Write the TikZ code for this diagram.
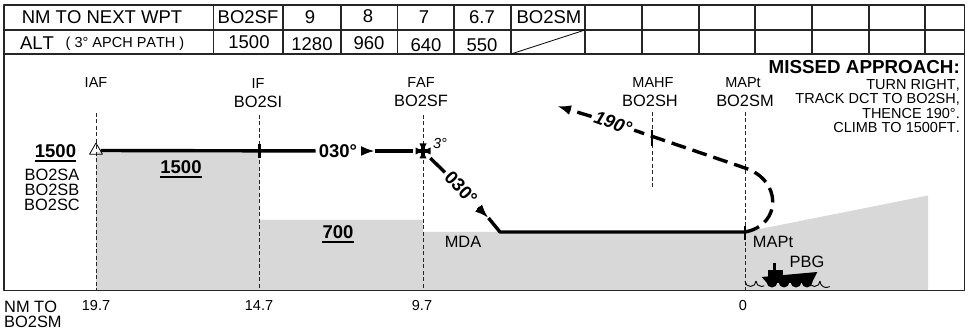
\documentclass[tikz,border=0pt]{standalone}
\usepackage{fontspec}
\setmainfont{Liberation Sans}[Kerning=Off]
\usetikzlibrary{arrows.meta,shapes.geometric}
\definecolor{terrain}{HTML}{D8D8D8}
\tikzset{
  txt/.style={inner sep=0bp,font=\fontsize{14.5bp}{14.5bp}\selectfont},
  cell/.style={inner sep=0bp,font=\fontsize{18.5bp}{20bp}\selectfont},
  fix/.style={inner sep=0bp,font=\fontsize{16.4bp}{15bp}\selectfont},
  alt/.style={inner sep=0bp,font=\fontsize{18.5bp}{17bp}\selectfont\bfseries},
  course/.style={inner sep=3bp,font=\fontsize{18.5bp}{18bp}\selectfont\bfseries},
  ruled/.style={line width=1.2bp,draw=black!85},
  guide/.style={line width=1bp,dash pattern=on 4bp off 2.5bp,draw=black!85},
  track/.style={line width=3.4bp,line cap=butt},
  miss/.style={line width=3.4bp,dash pattern=on 15bp off 7bp},
  under/.style={line width=2bp},
  wave/.style={line width=0.9bp},
}
\begin{document}
\begin{tikzpicture}[>={Latex[length=14bp,width=10bp]},line join=bevel]
\useasboundingbox (0bp,0bp) rectangle (969bp,331bp);
%% terrain
\fill [terrain] (96bp,179bp) -- (259.5bp,179bp) -- (259.5bp,111bp) -- (423bp,111bp) -- (423bp,99bp) -- (745bp,99bp) -- (928bp,135.5bp) -- (928bp,41bp) -- (96bp,41bp) -- cycle;
%% table and frame
\draw [ruled] (4bp,326bp) -- (964.5bp,326bp) -- (964.5bp,40.5bp) -- (4bp,40.5bp) -- cycle;
\draw [ruled] (4bp,301bp) -- (964.5bp,301bp);
\draw [ruled] (4bp,277bp) -- (964.5bp,277bp);
\draw [ruled] (213.5bp,326bp) -- (213.5bp,277bp);
\draw [ruled] (283bp,326bp) -- (283bp,277bp);
\draw [ruled] (341bp,326bp) -- (341bp,277bp);
\draw [ruled] (397.5bp,326bp) -- (397.5bp,277bp);
\draw [ruled] (454bp,326bp) -- (454bp,277bp);
\draw [ruled] (511bp,326bp) -- (511bp,277bp);
\draw [ruled] (585bp,326bp) -- (585bp,277bp);
\draw [ruled] (642bp,326bp) -- (642bp,277bp);
\draw [ruled] (699bp,326bp) -- (699bp,277bp);
\draw [ruled] (755bp,326bp) -- (755bp,277bp);
\draw [ruled] (812bp,326bp) -- (812bp,277bp);
\draw [ruled] (869bp,326bp) -- (869bp,277bp);
\draw [ruled] (925bp,326bp) -- (925bp,277bp);
\draw [line width=0.8bp] (511bp,277bp) -- (585bp,301bp);
%
\node (node_nm) at (102bp,314bp) [cell] {NM TO NEXT WPT};
\node (node_alt) at (37bp,288bp) [cell] {ALT};
\node (node_path) at (125bp,287bp) [txt] {( 3° APCH PATH )};
\node (node_wpta) at (248bp,314bp) [cell] {BO2SF};
\node (node_wptb) at (310bp,314bp) [cell] {9};
\node (node_wptc) at (368bp,315bp) [cell] {8};
\node (node_wptd) at (424bp,314bp) [cell] {7};
\node (node_wpte) at (482bp,314bp) [cell] {6.7};
\node (node_wptf) at (549bp,314bp) [cell] {BO2SM};
\node (node_alta) at (249bp,289bp) [cell] {1500};
\node (node_altb) at (312bp,287bp) [cell] {1280};
\node (node_altc) at (369bp,288bp) [cell] {960};
\node (node_altd) at (426bp,286bp) [cell] {640};
\node (node_alte) at (482bp,286bp) [cell] {550};
%% fix names
\node (node_iaftext) at (96bp,248bp) [txt] {IAF};
\node (node_iftext) at (258bp,247.5bp) [txt] {IF};
\node (node_ifname) at (258bp,229.5bp) [fix] {BO2SI};
\node (node_faftext) at (421bp,248.5bp) [txt] {FAF};
\node (node_fafname) at (421bp,230.5bp) [fix] {BO2SF};
\node (node_mahftext) at (653bp,248.5bp) [txt] {MAHF};
\node (node_mahfname) at (650bp,230.5bp) [fix] {BO2SH};
\node (node_mapttext) at (743bp,248.5bp) [txt] {MAPt};
\node (node_maptname) at (745bp,230.5bp) [fix] {BO2SM};
\node (node_missed) at (960bp,263.5bp) [anchor=east,inner sep=0bp,font=\fontsize{18.8bp}{18bp}\selectfont\bfseries] {MISSED APPROACH:};
\node (node_turn) at (960bp,225bp) [txt,anchor=east,align=right] {TURN RIGHT,\\TRACK DCT TO BO2SH,\\THENCE 190°.\\CLIMB TO 1500FT.};
%% guides
\coordinate (node_iafb) at (96bp,41bp);
\coordinate (node_ifb) at (259.5bp,41bp);
\coordinate (node_fafb) at (423bp,41bp);
\coordinate (node_maptb) at (745bp,41bp);
\coordinate (node_iaft) at (96bp,218bp);
\coordinate (node_ift) at (259.5bp,216bp);
\coordinate (node_faft) at (423bp,216bp);
\coordinate (node_mahft) at (652bp,219bp);
\coordinate (node_mahfb) at (652bp,143bp);
\coordinate (node_maptt) at (745bp,219bp);
\draw [guide] (node_iaft) -- (node_iafb);
\draw [guide] (node_ift) -- (node_ifb);
\draw [guide] (node_faft) -- (node_fafb);
\draw [guide] (node_mahft) -- (node_mahfb);
\draw [guide] (node_maptt) -- (node_maptb);
%% approach track
\node (node_iaf) at (96bp,180.5bp) [draw,line width=0.8bp,regular polygon,regular polygon sides=3,minimum size=15bp,inner sep=0bp] {};
\node (node_trka) at (338bp,180bp) [course] {030°};
\node (node_faf) at (423bp,180bp) [circle,minimum size=20bp,inner sep=0bp] {};
\node (node_trkb) at (461bp,143bp) [course,rotate=-47] {030°};
\coordinate (node_heada) at (361bp,180bp);
\coordinate (node_tipa) at (375bp,180bp);
\coordinate (node_headb) at (478bp,123.5bp);
\coordinate (node_tipb) at (488.5bp,113bp);
\coordinate (node_mda) at (500bp,99bp);
\coordinate (node_mapt) at (745bp,99bp);
\draw [track] (node_iaf) -- (node_trka);
\draw [track,->] (node_heada) -- (node_tipa);
\draw [track] (node_tipa) -- (node_faf);
\draw [track] (node_faf) -- (node_trkb);
\draw [track,->] (node_headb) -- (node_tipb);
\draw [track] (node_tipb) -- (node_mda) -- (node_mapt);
\fill (node_faf.center) -- ++(-7.5bp,3.5bp) -- ++(0bp,-7bp) -- cycle;
\fill (node_faf.center) -- ++(7.5bp,3.5bp) -- ++(0bp,-7bp) -- cycle;
\fill (node_faf.center) -- ++(3.5bp,7.5bp) -- ++(-7bp,0bp) -- cycle;
\fill (node_faf.center) -- ++(3.5bp,-7.5bp) -- ++(-7bp,0bp) -- cycle;
\draw [line width=3.5bp] ([xshift=-6.5bp]node_faf.center) -- ([xshift=6.5bp]node_faf.center);
\draw [line width=3.5bp] ([yshift=-6.5bp]node_faf.center) -- ([yshift=6.5bp]node_faf.center);
\node (node_slope) at (440bp,187bp) [txt,font=\fontsize{14.5bp}{14.5bp}\selectfont\itshape] {3°};
%% missed approach
\coordinate (node_bend) at (745bp,163bp);
\node (node_hdg) at (613bp,208bp) [course,rotate=-20,font=\fontsize{18.5bp}{18bp}\selectfont\bfseries\itshape] {190°};
\coordinate (node_end) at (557bp,225bp);
\draw [miss] (node_mapt) ..controls (782bp,106bp) and (782bp,151bp) .. (node_bend) -- (node_hdg);
\draw [miss,->] (node_hdg) -- (node_end);
%% ticks
\draw [line width=2.2bp] (259.5bp,173bp) -- (259.5bp,187bp);
\draw [line width=2.2bp] (652bp,185bp) -- (652bp,201bp);
\draw [line width=2.2bp] (745bp,91bp) -- (745bp,105bp);
%% altitudes
\node (node_alia) at (55.5bp,180bp) [alt] {1500};
\draw [under] ([yshift=-3bp]node_alia.south west) -- ([yshift=-3bp]node_alia.south east);
\node (node_alib) at (181bp,164bp) [alt] {1500};
\draw [under] ([yshift=-3bp]node_alib.south west) -- ([yshift=-3bp]node_alib.south east);
\node (node_alic) at (338bp,99bp) [alt] {700};
\draw [under] ([yshift=-3bp]node_alic.south west) -- ([yshift=-3bp]node_alic.south east);
\node (node_iafs) at (52bp,141bp) [fix,align=center] {BO2SA\\BO2SB\\BO2SC};
\node (node_mdatext) at (463bp,89bp) [fix] {MDA};
\node (node_mapttwo) at (773bp,89bp) [fix] {MAPt};
\node (node_pbg) at (807bp,69bp) [fix] {PBG};
%% ship
\fill (772.7bp,68bp) rectangle (776bp,60bp);
\fill (767.7bp,61bp) rectangle (783.3bp,53bp);
\fill (761.7bp,54bp) -- (817.3bp,59bp) -- (811.7bp,48bp) -- (767bp,48bp) -- cycle;
\fill (772bp,49bp) circle (5.5bp);
\fill (784bp,49bp) circle (5.5bp);
\fill (796bp,49bp) circle (5.5bp);
\fill (807bp,49bp) circle (5.5bp);
\draw [wave] (745bp,50bp) arc (180:360:5.5bp) arc (180:300:5.5bp);
\draw [wave] (809bp,50bp) arc (180:360:5.5bp) arc (180:300:6.5bp);
%% scale
\node (node_nmto) at (4bp,17bp) [fix,anchor=west,align=left] {NM TO\\BO2SM};
\node (node_da) at (96bp,25.5bp) [txt] {19.7};
\node (node_db) at (259bp,25.5bp) [txt] {14.7};
\node (node_dc) at (422bp,25.5bp) [txt] {9.7};
\node (node_dd) at (743bp,25.5bp) [txt] {0};
%
\end{tikzpicture}
\end{document}
